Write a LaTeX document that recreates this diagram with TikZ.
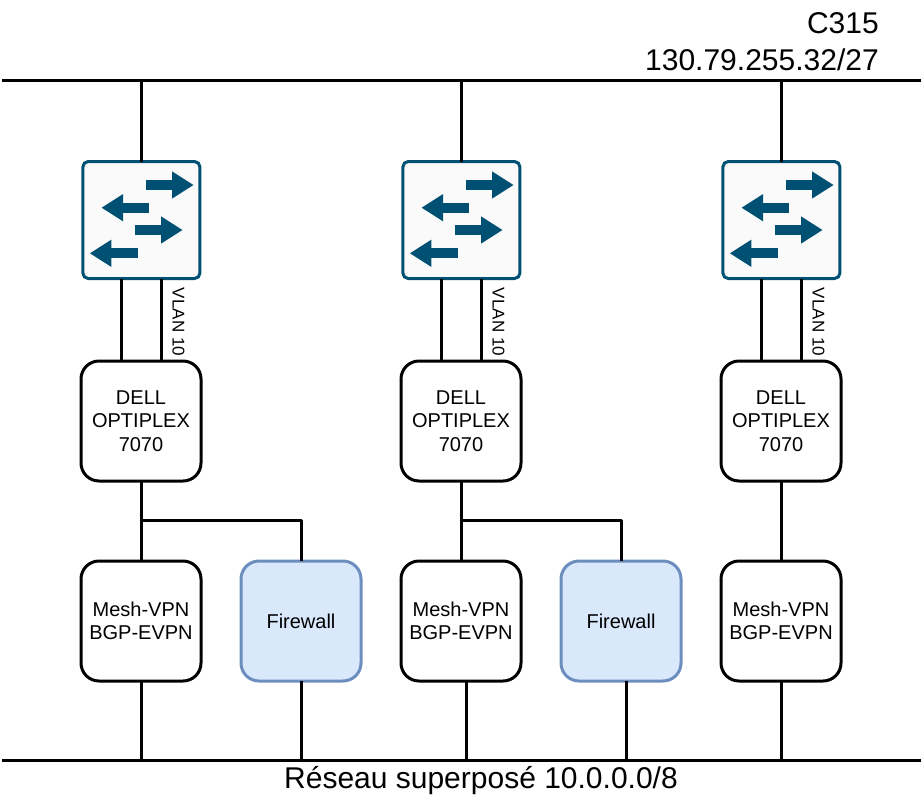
\documentclass[tikz,border=0pt]{standalone}
\usepackage{fontspec}
\setmainfont{Liberation Sans}
\usepackage{tikz}
\usetikzlibrary{
	arrows.meta,
	positioning,
	}
\definecolor{switchblue}{HTML}{005073}
\definecolor{switchfill}{HTML}{FAFAFA}
\definecolor{fwfill}{HTML}{DAE8FC}
\definecolor{fwdraw}{HTML}{6C8EBF}
\tikzset{
	link/.style={line width=2.25pt,line cap=butt},
	boxtext/.style={font=\fontsize{15}{17.7}\selectfont,align=center},
	bigtext/.style={font=\fontsize{22.5}{26.9}\selectfont,inner sep=0pt},
	host/.style={draw,line width=2.25pt,rectangle,rounded corners=13.5pt,minimum size=90pt,inner sep=0pt,outer sep=0pt,boxtext},
	firewall/.style={host,draw=fwdraw,fill=fwfill},
	switchbox/.style={draw=switchblue,fill=switchfill,line width=2.25pt,rectangle,rounded corners=4pt,minimum size=87.75pt,inner sep=0pt,outer sep=0pt},
	vlan/.style={font=\fontsize{12.75}{15}\selectfont,rotate=-90,inner sep=0pt},
	flow/.style={switchblue,line width=7.5pt,-{Triangle[length=16.2pt,width=19.2pt]}},
	switcharrows/.pic={
		\draw[flow] (5,-35) --+ (47.3,0);
		\draw[flow] (8,-12.3) --+ (-48,0);
		\draw[flow] (-6,10) --+ (47.3,0);
		\draw[flow] (-3.7,33.3) --+ (-48,0);
	},
}
\begin{document}
\begin{tikzpicture}[x=0.75pt,y=-0.75pt]
\useasboundingbox (0,0) rectangle (924,800);
\coordinate (topl) at (2,80);
\coordinate (topr) at (921,80);
\coordinate (botl) at (2,760);
\coordinate (botr) at (921,760);
\draw[link] (topl) -- (topr);
\draw[link] (botl) -- (botr);
\node[bigtext,anchor=east] (room) at (879,23) {C315};
\node[bigtext,anchor=east] (subnet) at (879,59.5) {130.79.255.32/27};
\node[bigtext] (overlay) at (481,781) {Réseau superposé 10.0.0.0/8};
% switches
\node[switchbox] (sw1) at (141.4,220) {};
\node[switchbox] (sw2) at (461.4,220) {};
\node[switchbox] (sw3) at (781.4,220) {};
\pic at (sw1.center) {switcharrows};
\pic at (sw2.center) {switcharrows};
\pic at (sw3.center) {switcharrows};
% hosts
\node[host] (pc1) at (141,421) {DELL\\OPTIPLEX\\7070};
\node[host] (pc2) at (461,421) {DELL\\OPTIPLEX\\7070};
\node[host] (pc3) at (781,421) {DELL\\OPTIPLEX\\7070};
\node[host] (vpn1) at (141,621) {Mesh-VPN\\BGP-EVPN};
\node[firewall] (fw1) at (301,621) {Firewall};
\node[host] (vpn2) at (461,621) {Mesh-VPN\\BGP-EVPN};
\node[firewall] (fw2) at (621,621) {Firewall};
\node[host] (vpn3) at (781,621) {Mesh-VPN\\BGP-EVPN};
% links
\draw[link] (sw1.north) -- (sw1.north |- topl);
\draw[link] (sw2.north) -- (sw2.north |- topl);
\draw[link] (sw3.north) -- (sw3.north |- topl);
\draw[link] ([xshift=-15pt]pc1.north) -- ([xshift=-15pt]pc1.north |- sw1.south);
\draw[link] ([xshift=15pt]pc1.north) -- ([xshift=15pt]pc1.north |- sw1.south);
\draw[link] ([xshift=-15pt]pc2.north) -- ([xshift=-15pt]pc2.north |- sw2.south);
\draw[link] ([xshift=15pt]pc2.north) -- ([xshift=15pt]pc2.north |- sw2.south);
\draw[link] ([xshift=-15pt]pc3.north) -- ([xshift=-15pt]pc3.north |- sw3.south);
\draw[link] ([xshift=15pt]pc3.north) -- ([xshift=15pt]pc3.north |- sw3.south);
\node[vlan] (vlan1) at (178.5,322) {VLAN 10};
\node[vlan] (vlan2) at (498.5,322) {VLAN 10};
\node[vlan] (vlan3) at (818.5,322) {VLAN 10};
\draw[link] (pc1.south) -- (vpn1.north);
\draw[link] (pc2.south) -- (vpn2.north);
\draw[link] (pc3.south) -- (vpn3.north);
\coordinate (fork1) at (141,520.5);
\coordinate (fork2) at (461,520.5);
\draw[link,line join=round] (fork1) -- (fork1 -| fw1.north) -- (fw1.north);
\draw[link,line join=round] (fork2) -- (fork2 -| fw2.north) -- (fw2.north);
\draw[link] (vpn1.south) -- (vpn1.south |- botl);
\draw[link] (fw1.south) -- (fw1.south |- botl);
\draw[link] ([xshift=3.75pt]vpn2.south) -- ([xshift=3.75pt]vpn2.south |- botl);
\draw[link] ([xshift=3.75pt]fw2.south) -- ([xshift=3.75pt]fw2.south |- botl);
\draw[link] (vpn3.south) -- (vpn3.south |- botl);
\end{tikzpicture}
\end{document}
